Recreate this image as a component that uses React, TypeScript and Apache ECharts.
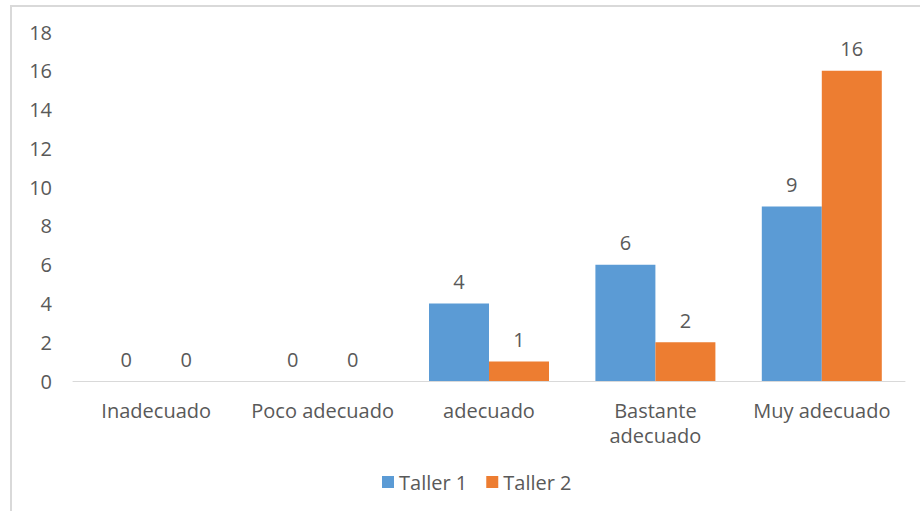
import React, { useEffect, useRef } from "react";
import * as echarts from "echarts";

const categories = ["Inadecuado", "Poco adecuado", "adecuado", "Bastante\nadecuado", "Muy adecuado"];
const taller1 = [0, 0, 4, 6, 9];
const taller2 = [0, 0, 1, 2, 16];
const seriesNames = ["Taller 1", "Taller 2"];

export default function App() {
  const ref = useRef<HTMLDivElement>(null);
  useEffect(() => {
    const chart = echarts.init(ref.current!, null, { renderer: "svg" });
    const font = "'Open Sans', sans-serif";
    const txt = "#595959";
    const fs = 20;
    chart.setOption({
      animation: false,
      backgroundColor: "#ffffff",
      textStyle: { fontFamily: font },
      graphic: [
        {
          type: "rect",
          shape: { x: 11, y: 6, width: 940, height: 540 },
          style: { fill: "none", stroke: "#d9d9d9", lineWidth: 2 },
          silent: true,
        },
      ],
      grid: { left: 73, right: 15, top: 32, bottom: 130 },
      legend: {
        left: 377,
        top: 467,
        itemWidth: 12,
        itemHeight: 12,
        itemGap: 19,
        icon: "rect",
        textStyle: { color: txt, fontSize: fs, fontFamily: font },
        data: seriesNames,
      },
      xAxis: {
        type: "category",
        data: categories,
        axisLine: { lineStyle: { color: "#d9d9d9", width: 1 } },
        axisTick: { show: false },
        axisLabel: {
          color: txt,
          fontSize: fs,
          margin: 17,
          lineHeight: 25,
          interval: 0,
          hideOverlap: false,
          fontFamily: font,
        },
      },
      yAxis: {
        type: "value",
        min: 0,
        max: 18,
        interval: 2,
        splitLine: { show: false },
        axisLine: { show: false },
        axisTick: { show: false },
        axisLabel: { color: txt, fontSize: fs, margin: 21, fontFamily: font },
      },
      series: [
        {
          name: seriesNames[0],
          type: "bar",
          data: taller1,
          barWidth: 60,
          barGap: "0%",
          itemStyle: { color: "#5B9BD5" },
          label: { show: true, position: "top", distance: 12, color: txt, fontSize: fs, fontFamily: font },
        },
        {
          name: seriesNames[1],
          type: "bar",
          data: taller2,
          barWidth: 60,
          barGap: "0%",
          itemStyle: { color: "#ED7D31" },
          label: { show: true, position: "top", distance: 12, color: txt, fontSize: fs, fontFamily: font },
        },
      ],
    });
    return () => chart.dispose();
  }, []);
  return (
    <div
      ref={ref}
      style={{ position: "absolute", left: 0, top: 0, width: 920, height: 511 }}
    />
  );
}
